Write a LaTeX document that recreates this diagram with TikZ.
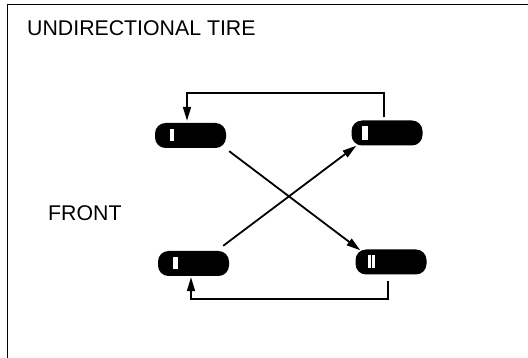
\documentclass[tikz,border=0pt]{standalone}
\usepackage{fontspec}
\setmainfont{Liberation Sans}
\usetikzlibrary{arrows.meta}

\begin{document}
\begin{tikzpicture}[x=1pt,y=-1pt]
	\tikzstyle{tire} = [fill=black, minimum width=71pt, minimum height=25pt, inner sep=0pt, rounded corners=10.5pt]
	\tikzstyle{tireslot} = [fill=white, inner sep=0pt, minimum height=12pt]
	\tikzstyle{label} = [anchor=base west, inner sep=0pt, font=\fontsize{21.3}{24}\selectfont]
	\tikzstyle{line} = [draw, line width=1.8pt, -{Triangle[length=14pt,width=8pt]}]

	\useasboundingbox (0,0) rectangle (528,358);
	\fill[white] (0,0) rectangle (528,358);

	\coordinate(FrameBottom) at (7.5,358);
	\coordinate(FrameCorner) at (7.5,4.5);
	\coordinate(FrameRight) at (528,4.5);
	\draw[line width=1.6pt] (FrameBottom) -- (FrameCorner) -- (FrameRight);

	\node(Title)[label] at (27,35.5) {UNDIRECTIONAL TIRE};
	\node(Front)[label] at (48,221) {FRONT};

	\tikzset{node distance = 196.5pt}
	\node(TireTopLeft)[tire] at (190.5,135.5) {};
	\node(TireTopRight)[tire,right of = TireTopLeft,yshift=2.5pt] {};
	\tikzset{node distance = 128pt}
	\node(TireBottomLeft)[tire,below of = TireTopLeft,xshift=3pt] {};
	\node(TireBottomRight)[tire,below of = TireTopRight,xshift=4pt,yshift=-1pt] {};

	\node(SlotTopLeft)[tireslot,minimum width=4pt] at ([xshift=17pt]TireTopLeft.west) {};
	\node(SlotTopRight)[tireslot,minimum width=6pt,minimum height=14pt] at ([xshift=14pt]TireTopRight.west) {};
	\node(SlotBottomLeft)[tireslot,minimum width=5pt] at ([xshift=18pt]TireBottomLeft.west) {};
	\node(SlotBottomRightA)[tireslot,minimum width=2.5pt,minimum height=13pt] at ([xshift=14pt]TireBottomRight.west) {};
	\node(SlotBottomRightB)[tireslot,minimum width=2.5pt,minimum height=13pt] at ([xshift=18pt]TireBottomRight.west) {};

	\draw[line] ([xshift=-3pt,yshift=3pt]TireTopRight.north) -- ++(0,-24) -| ([xshift=-3.5pt,yshift=2pt]TireTopLeft.north);
	\draw[line] ([xshift=-3pt,yshift=-6pt]TireBottomRight.south) -- ++(0,18) -| ([xshift=-2.5pt,yshift=-1pt]TireBottomLeft.south);
	\draw[line] ([xshift=3pt,yshift=-3pt]TireTopLeft.south east) -- ([xshift=5pt,yshift=-1pt]TireBottomRight.north west);
	\draw[line] ([xshift=-6pt,yshift=5pt]TireBottomLeft.north east) -- ([xshift=5pt,yshift=0pt]TireTopRight.south west);
\end{tikzpicture}
\end{document}
